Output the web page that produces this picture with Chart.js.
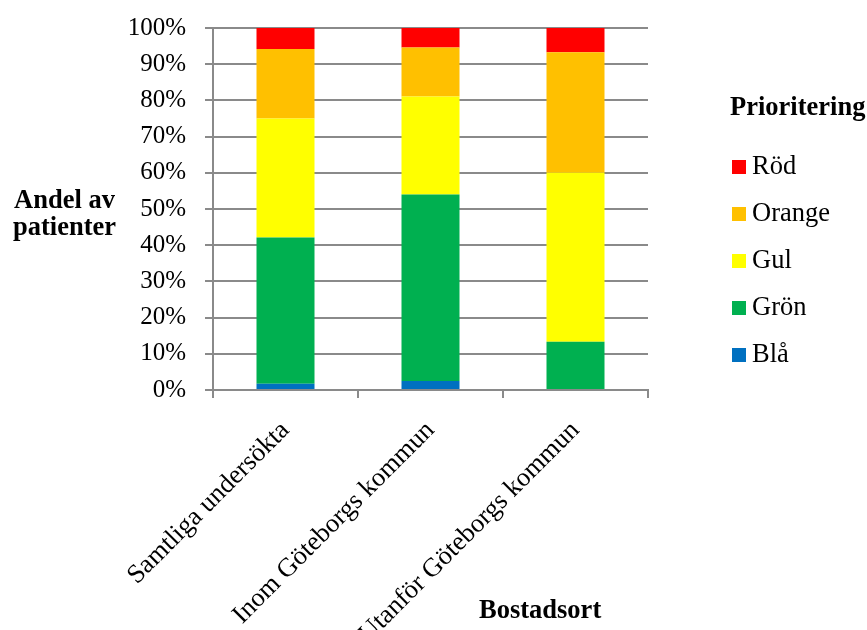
<!DOCTYPE html>
<html lang="sv">
<head>
<meta charset="utf-8">
<title>Prioritering per bostadsort</title>
<script src="https://cdn.jsdelivr.net/npm/chart.js@4.4.1/dist/chart.umd.min.js"></script>
<style>
    html, body { margin: 0; padding: 0; background: #fff; }
    #wrap { position: relative; width: 867px; height: 630px; overflow: hidden; font-family: "Liberation Serif", "Times New Roman", serif; color: #000; }
    /* canvas lifted a little so the 100% line sits near the top edge */
    #chart { position: absolute; left: 0; top: -6px; }
    .lbl { position: absolute; font-size: 26.5px; line-height: 27px; white-space: nowrap; }
    .bold { font-weight: bold; }
    #legend { position: absolute; left: 732px; top: 151px; }
    .item { position: relative; height: 47px; font-size: 26.5px; line-height: 28px; white-space: nowrap; }
    .item i { display: inline-block; width: 14px; height: 14px; margin-right: 6px; vertical-align: 0px; }
</style>
</head>
<body>
<div id="wrap">
    <canvas id="chart" width="867" height="636"></canvas>
    <div class="lbl bold" style="left: 13px; top: 186px; text-align: center;">Andel av<br>patienter</div>
    <div class="lbl bold" style="left: 479px; top: 596px;">Bostadsort</div>
    <div class="lbl bold" style="left: 730px; top: 93px;">Prioritering</div>
    <div id="legend"></div>
</div>
<script>
    // Andel patienter (%) per prioritetsnivå och bostadsort
    const categories = ['Samtliga undersökta', 'Inom Göteborgs kommun', 'Utanför Göteborgs kommun'];
    const bla    = [1.7, 2.5, 0];
    const gron   = [40.4, 51.5, 13.3];
    const gul    = [32.9, 27.1, 46.7];
    const orange = [19.2, 13.5, 33.3];
    const rod    = [5.8, 5.4, 6.7];
    const yTicks = [0, 10, 20, 30, 40, 50, 60, 70, 80, 90, 100];

    const gridColor = '#8a8a8a';
    const family = '"Liberation Serif", "Times New Roman", serif';

    const series = [
        { label: 'Blå', data: bla, color: '#0070C0' },
        { label: 'Grön', data: gron, color: '#00B050' },
        { label: 'Gul', data: gul, color: '#FFFF00' },
        { label: 'Orange', data: orange, color: '#FFC000' },
        { label: 'Röd', data: rod, color: '#FF0000' }
    ];

    // Legend, top item is the top of the stack
    const legend = document.getElementById('legend');
    series.slice().reverse().forEach(s => {
        const row = document.createElement('div');
        row.className = 'item';
        row.innerHTML = '<i style="background:' + s.color + '"></i>' + s.label;
        legend.appendChild(row);
    });

    const ctx = document.getElementById('chart').getContext('2d');
    new Chart(ctx, {
        type: 'bar',
        data: {
            labels: categories,
            datasets: series.map(s => ({
                label: s.label,
                data: s.data,
                backgroundColor: s.color,
                borderWidth: 0,
                barPercentage: 0.4,
                categoryPercentage: 1
            }))
        },
        options: {
            responsive: false,
            animation: false,
            layout: { padding: { top: 7, right: 219, left: 0, bottom: 0 } },
            plugins: {
                legend: { display: false },
                tooltip: { enabled: false }
            },
            scales: {
                x: {
                    stacked: true,
                    offset: true,
                    afterFit: s => { s.height = 240; },
                    grid: { offset: true, drawOnChartArea: false, drawTicks: true, tickLength: 8, color: gridColor, lineWidth: 2 },
                    border: { color: gridColor, width: 2 },
                    ticks: { color: '#000', font: { family: family, size: 26.5 }, autoSkip: false, minRotation: 45, maxRotation: 45, padding: 17 }
                },
                y: {
                    stacked: true,
                    min: 0,
                    max: 100,
                    afterFit: s => { s.width = 213; },
                    afterBuildTicks: s => { s.ticks = yTicks.map(v => ({ value: v })); },
                    grid: { color: gridColor, lineWidth: 2, tickLength: 8 },
                    border: { color: gridColor, width: 2 },
                    ticks: { color: '#000', font: { family: family, size: 25 }, padding: 19, callback: v => v + '%' }
                }
            }
        }
    });
</script>
</body>
</html>
